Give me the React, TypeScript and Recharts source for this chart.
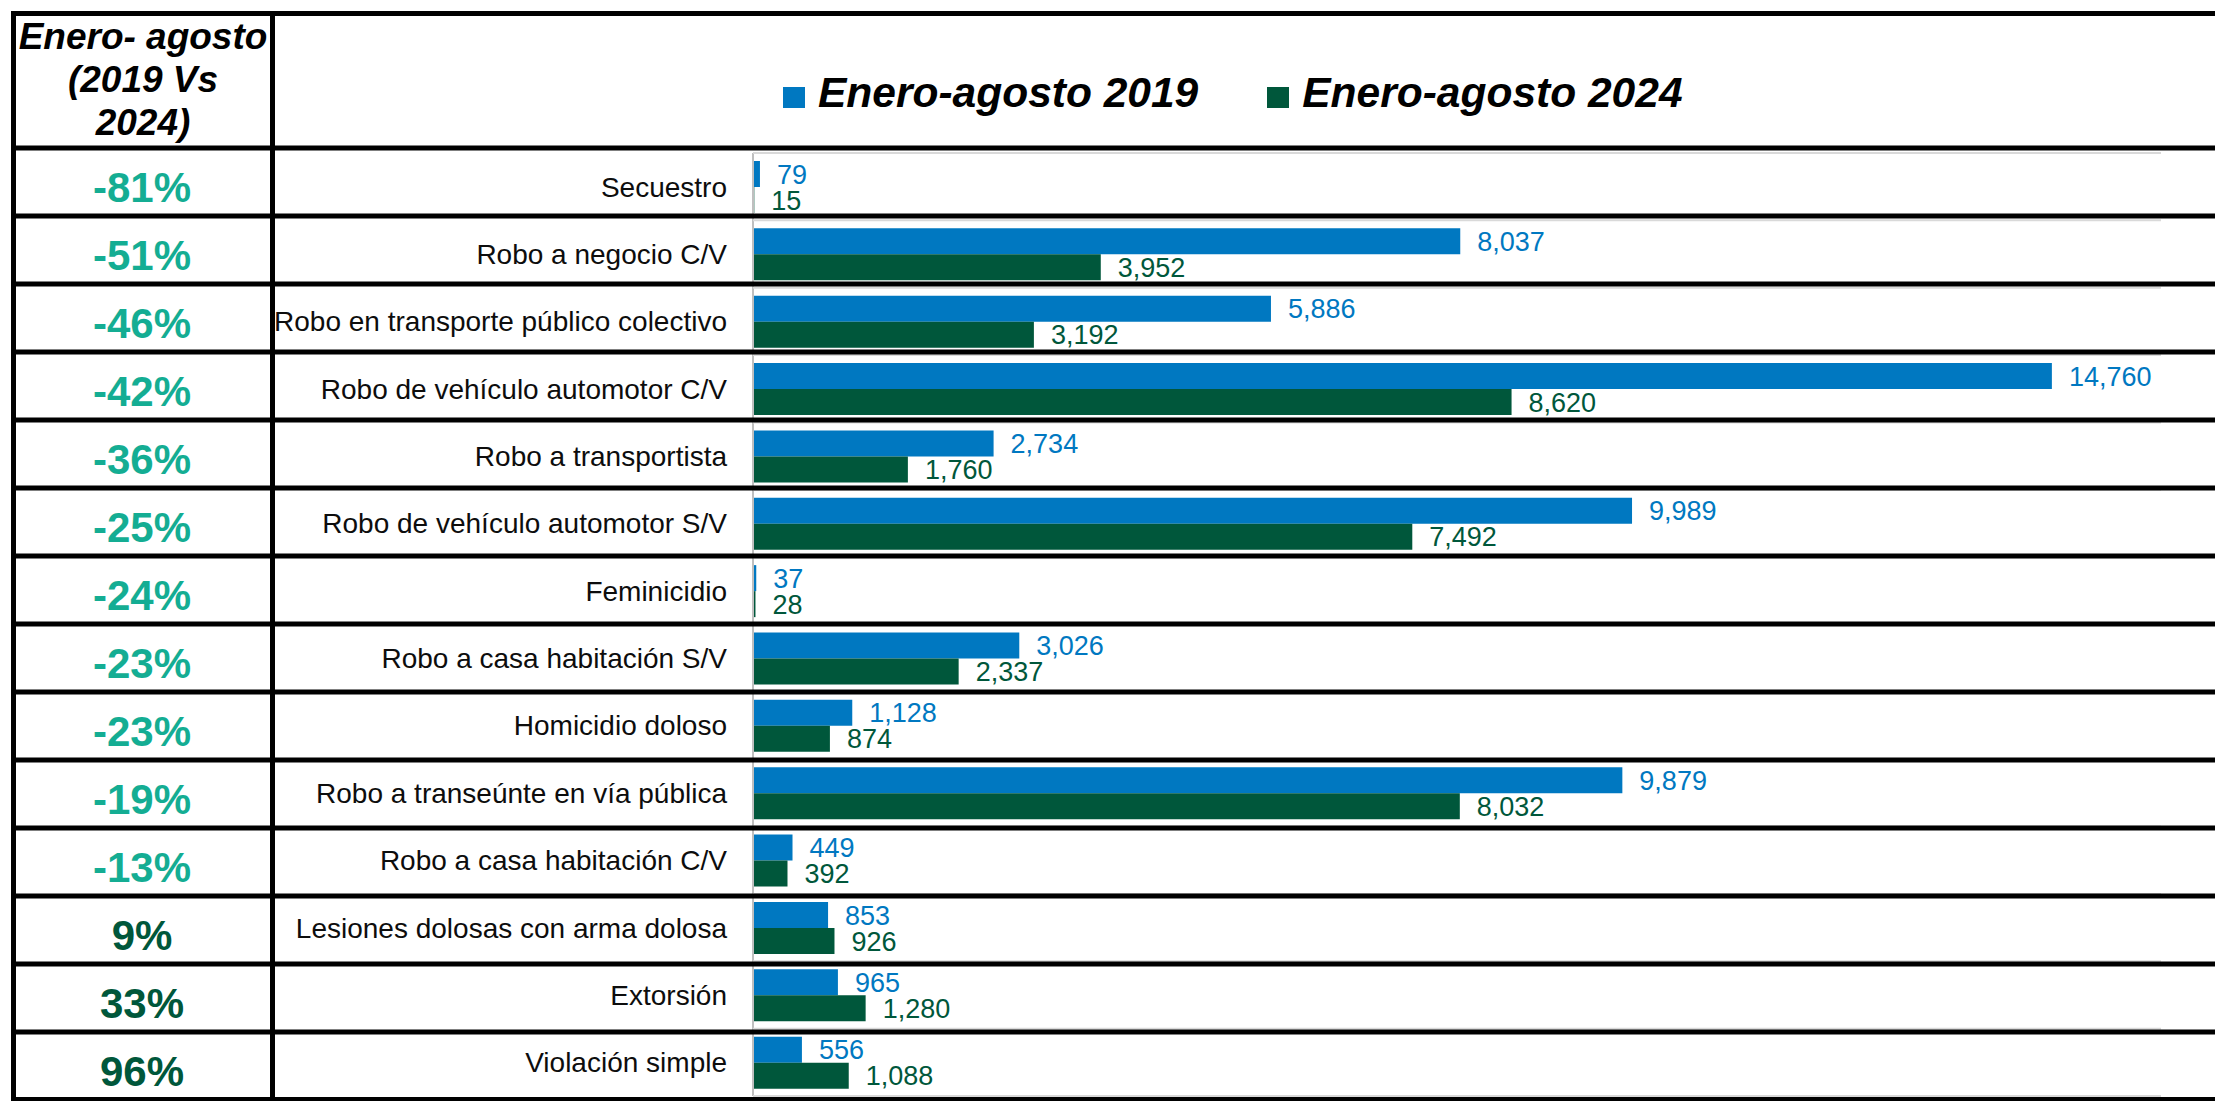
import { Bar, BarChart, XAxis, YAxis, Legend, LabelList } from "recharts";

const categories = [
  "Secuestro",
  "Robo a negocio C/V",
  "Robo en transporte público colectivo",
  "Robo de vehículo automotor C/V",
  "Robo a transportista",
  "Robo de vehículo automotor S/V",
  "Feminicidio",
  "Robo a casa habitación S/V",
  "Homicidio doloso",
  "Robo a transeúnte en vía pública",
  "Robo a casa habitación C/V",
  "Lesiones dolosas con arma dolosa",
  "Extorsión",
  "Violación simple",
];

const values2019 = [79, 8037, 5886, 14760, 2734, 9989, 37, 3026, 1128, 9879, 449, 853, 965, 556];
const values2024 = [15, 3952, 3192, 8620, 1760, 7492, 28, 2337, 874, 8032, 392, 926, 1280, 1088];

const changeLabels = [
  "-81%", "-51%", "-46%", "-42%", "-36%", "-25%", "-24%",
  "-23%", "-23%", "-19%", "-13%", "9%", "33%", "96%",
];

const data = categories.map((name, i) => ({
  name,
  y2019: values2019[i],
  y2024: values2024[i],
}));

const W = 2215;
const H = 1101;
const PLOT_LEFT = 753;
const PLOT_RIGHT = 2161;
const PLOT_TOP = 153;
const PLOT_BOTTOM = 1096;
const TABLE_TOP = 148;
const TABLE_ROW = 68;
const FONT = "'Liberation Sans', Arial, sans-serif";

const BLUE = "#0078c1";
const GREEN = "#00573b";
const TEAL = "#14ad93";

function CategoryTick(props: any) {
  const { y, payload } = props;
  const i = categories.indexOf(payload.value);
  const band = (PLOT_BOTTOM - PLOT_TOP) / categories.length;
  const bandTop = y - band / 2;
  const rowTop = TABLE_TOP + i * TABLE_ROW;
  const change = changeLabels[i];
  const last = i === categories.length - 1;
  return (
    <g>
      <line x1={PLOT_LEFT} x2={PLOT_RIGHT} y1={bandTop} y2={bandTop} stroke="#d9d9d9" strokeWidth={2} />
      {last && (
        <line x1={PLOT_LEFT} x2={PLOT_RIGHT} y1={bandTop + band} y2={bandTop + band} stroke="#d9d9d9" strokeWidth={2} />
      )}
      <rect x={11} y={rowTop - 2.5} width={W - 11} height={5} fill="#000" />
      {last && <rect x={11} y={rowTop + TABLE_ROW - 3} width={W - 11} height={5} fill="#000" />}
      <text
        x={142}
        y={rowTop + 39}
        dy="0.355em"
        textAnchor="middle"
        fontFamily={FONT}
        fontWeight="bold"
        fontSize={42}
        fill={change.startsWith("-") ? TEAL : GREEN}
      >
        {change}
      </text>
      <text
        x={PLOT_LEFT - 26}
        y={y}
        dy="0.355em"
        textAnchor="end"
        fontFamily={FONT}
        fontSize={28}
        fill="#0d0d0d"
      >
        {payload.value}
      </text>
    </g>
  );
}

function LegendContent(props: any) {
  const items = props.payload || [];
  return (
    <div style={{ display: "flex", fontFamily: FONT }}>
      {items.map((it: any, i: number) => (
        <div key={i} style={{ display: "flex", alignItems: "flex-start", marginLeft: i === 0 ? 0 : 69 }}>
          <div style={{ width: 22, height: 21, marginTop: 18, background: it.color }} />
          <span
            style={{
              marginLeft: 13,
              fontSize: 42.5,
              lineHeight: "48px",
              fontWeight: "bold",
              fontStyle: "italic",
              color: "#000",
              whiteSpace: "nowrap",
            }}
          >
            {it.value}
          </span>
        </div>
      ))}
    </div>
  );
}

const fmt = (v: any) => Number(v).toLocaleString("en-US");

export default function App() {
  return (
    <div style={{ position: "relative", width: W, height: H, background: "#fff" }}>
      <style>{`body{margin:0;}`}</style>
      <BarChart
        width={W}
        height={H}
        data={data}
        layout="vertical"
        margin={{ top: PLOT_TOP, right: W - PLOT_RIGHT, bottom: H - PLOT_BOTTOM, left: 0 }}
        barCategoryGap={8}
        barGap={0}
      >
        <XAxis type="number" domain={[0, 16000]} hide />
        <YAxis
          type="category"
          dataKey="name"
          width={PLOT_LEFT}
          interval={0}
          tickLine={false}
          axisLine={{ stroke: "#bfbfbf", strokeWidth: 2 }}
          tick={(p: any) => <CategoryTick {...p} />}
        />
        <Legend
          layout="horizontal"
          verticalAlign="middle"
          align="center"
          content={<LegendContent />}
          wrapperStyle={{ position: "absolute", top: 69, left: 783, width: "auto", height: "auto" }}
        />
        <Bar dataKey="y2019" name="Enero-agosto 2019" fill={BLUE} isAnimationActive={false}>
          <LabelList
            dataKey="y2019"
            position="right"
            offset={17}
            formatter={fmt}
            fill={BLUE}
            fontSize={27}
            fontFamily={FONT}
          />
        </Bar>
        <Bar dataKey="y2024" name="Enero-agosto 2024" fill={GREEN} isAnimationActive={false}>
          <LabelList
            dataKey="y2024"
            position="right"
            offset={17}
            formatter={fmt}
            fill={GREEN}
            fontSize={27}
            fontFamily={FONT}
          />
        </Bar>
      </BarChart>
      <svg
        width={W}
        height={H}
        style={{ position: "absolute", left: 0, top: 0, pointerEvents: "none" }}
      >
        <rect x={11} y={11} width={W - 11} height={5} fill="#000" />
        <rect x={11} y={11} width={5} height={H - 11} fill="#000" />
        <rect x={270} y={11} width={5} height={H - 11} fill="#000" />
      </svg>
      <div
        style={{
          position: "absolute",
          left: 16,
          top: 15,
          width: 254,
          textAlign: "center",
          fontFamily: FONT,
          fontSize: 37,
          lineHeight: "43px",
          fontWeight: "bold",
          fontStyle: "italic",
          color: "#000",
        }}
      >
        Enero- agosto
        <br />
        (2019 Vs
        <br />
        2024)
      </div>
    </div>
  );
}
